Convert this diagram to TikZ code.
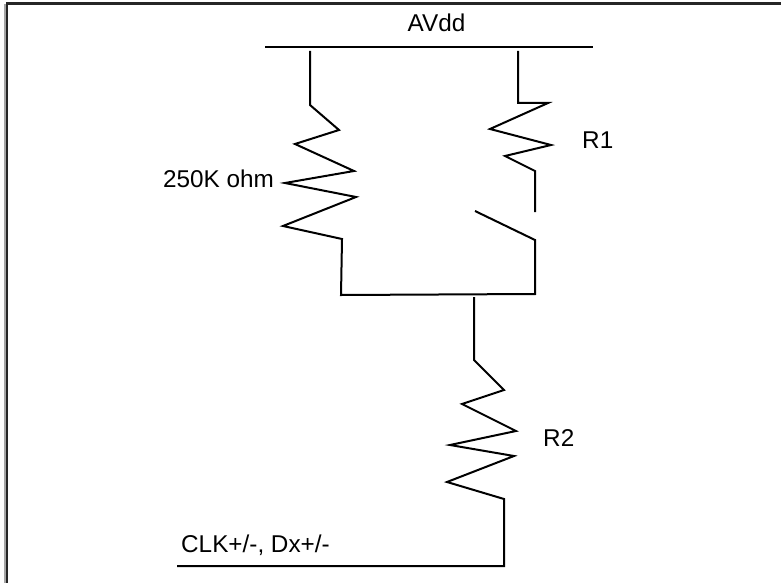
\documentclass[tikz,border=0pt]{standalone}
\usepackage{fontspec}
\setmainfont{Liberation Sans}
\begin{document}
\begin{tikzpicture}[x=1pt,y=-1pt,
  wire/.style={draw=black,line width=2pt,line join=miter,miter limit=10},
  frameline/.style={draw=black!85,line width=2.2pt},
  lbl/.style={font=\fontsize{24.3}{26}\selectfont,text=black,inner sep=0pt}]
\useasboundingbox (0,0) rectangle (781,583);
\fill[white] (0,0) rectangle (781,583);
\draw[draw=black!35,line width=2pt] (5,4) -- (5,583);
\draw[frameline] (6.8,583) -- (6.8,3.6) -- (781,3.6);
\coordinate (railL) at (265,47.2);
\coordinate (railR) at (593,47.2);
\coordinate (topA) at (310,51);
\coordinate (topB) at (518,51);
\coordinate (swFixed) at (535,212);
\coordinate (swBlade) at (475,211);
\coordinate (swPivot) at (535,240);
\coordinate (busL) at (341,295);
\coordinate (busR) at (535,294);
\coordinate (busM) at (474,297);
\coordinate (endA) at (177,566);
\coordinate (endB) at (504,566);
\draw[wire] (railL) -- (railR);
\draw[wire] (topA) -- (310,105) -- (339,130) -- (295,144) -- (354,171) -- (285,183) -- (356,197) -- (283,226) -- (342,239) -- (busL) -- (busR) -- (swPivot) -- (swBlade);
\draw[wire] (topB) -- (518,103) -- (548,103) -- (490,129) -- (551,145) -- (505,156) -- (535,171) -- (swFixed);
\draw[wire] (busM) -- (474,360) -- (504,390) -- (462,404) -- (516,431) -- (450,445) -- (514,456) -- (447,482) -- (504,499) -- (endB) -- (endA);
\node[lbl,anchor=base] (avdd) at (436.5,32) {AVdd};
\node[lbl,anchor=base west] (r1) at (582,148) {R1};
\node[lbl,anchor=base west] (ohm) at (163,187) {250K ohm};
\node[lbl,anchor=base west] (r2) at (543,446) {R2};
\node[lbl,anchor=base west] (clk) at (181,552) {CLK+/-, Dx+/-};
\end{tikzpicture}
\end{document}
